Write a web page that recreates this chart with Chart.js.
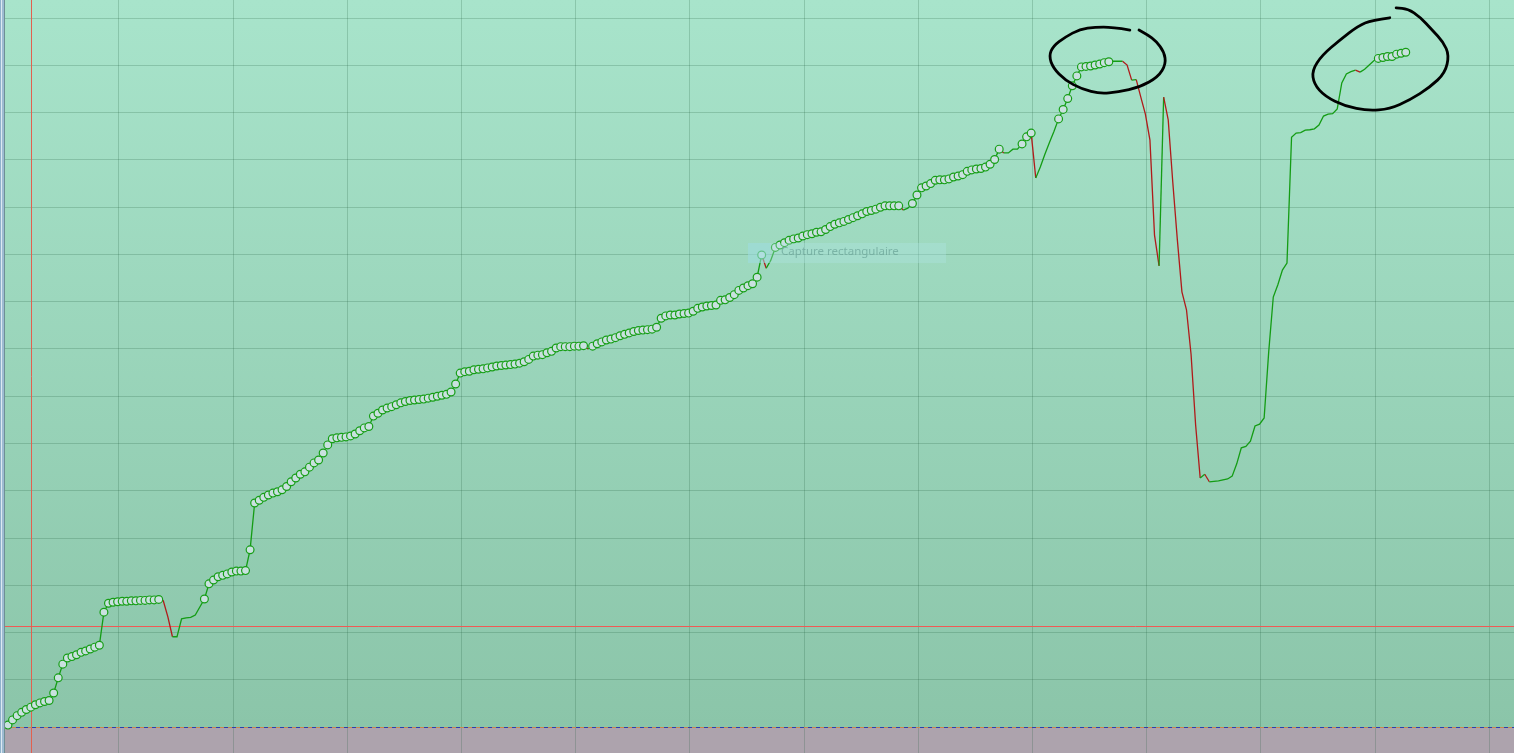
<!DOCTYPE html>
<html>
<head>
<meta charset="utf-8">
<script src="https://cdn.jsdelivr.net/npm/chart.js@4.4.1/dist/chart.umd.min.js"></script>
<style>
  html, body { margin: 0; padding: 0; overflow: hidden; background: #a8e4cb; }
  #wrap { position: relative; width: 1514px; height: 753px; }
  #snip { position: absolute; left: 748px; top: 243px; width: 198px; height: 20px;
          background: rgba(175, 228, 230, 0.35); }
  #snip .icon { position: absolute; left: 0; top: 0; width: 22px; height: 20px; background: rgba(150, 215, 220, 0.35); }
  #snip .txt { position: absolute; left: 33px; top: 0; line-height: 20px;
               font: 11.5px "Noto Sans", sans-serif; color: rgba(90, 145, 135, 0.55); white-space: nowrap; }
</style>
</head>
<body>
<div id="wrap">
  <canvas id="chartCanvas"></canvas>
  <div id="snip"><div class="icon"></div><div class="txt">Capture rectangulaire</div></div>
</div>
<script>
// price series, one value per bar (bar spacing is uniform)
const prices = [
  0.4, 1.5, 2.4, 3.1, 3.7, 4.2, 4.7, 5.1, 5.4, 5.6,
  7.2, 10.4, 13.3, 14.6, 14.9, 15.3, 15.8, 16.1, 16.5, 16.9,
  17.3, 24.3, 26.2, 26.4, 26.5, 26.6, 26.6, 26.7, 26.7, 26.8,
  26.8, 26.9, 26.9, 27.0, 26.7, 23.3, 19.1, 19.1, 22.9, 23.1,
  23.2, 23.7, 25.4, 27.1, 30.3, 31.1, 31.8, 32.1, 32.4, 32.8,
  33.0, 33.0, 33.1, 37.5, 47.4, 48.0, 48.6, 49.1, 49.5, 49.8,
  50.2, 50.9, 51.9, 52.7, 53.5, 54.0, 55.0, 55.9, 56.5, 58.0,
  59.7, 61.0, 61.2, 61.3, 61.4, 61.6, 62.0, 62.7, 63.3, 63.6,
  65.8, 66.4, 67.1, 67.5, 67.8, 68.2, 68.6, 68.9, 69.1, 69.2,
  69.3, 69.4, 69.6, 69.8, 70.0, 70.2, 70.4, 70.9, 72.6, 74.9,
  75.2, 75.3, 75.6, 75.7, 75.8, 76.0, 76.2, 76.4, 76.5, 76.6,
  76.7, 76.8, 77.0, 77.3, 77.8, 78.5, 78.7, 78.8, 79.2, 79.5,
  80.2, 80.5, 80.5, 80.5, 80.6, 80.6, 80.7, 80.0, 80.6, 81.1,
  81.5, 81.9, 82.1, 82.4, 82.8, 83.1, 83.4, 83.7, 83.9, 84.0,
  84.1, 84.2, 84.6, 86.5, 87.0, 87.2, 87.2, 87.4, 87.5, 87.6,
  88.0, 88.6, 88.9, 89.1, 89.2, 89.3, 90.3, 90.4, 90.9, 91.5,
  92.4, 92.9, 93.4, 93.8, 95.2, 99.9, 97.1, 98.8, 101.5, 102.0,
  102.5, 103.0, 103.3, 103.5, 103.9, 104.2, 104.4, 104.7, 104.8, 105.3,
  105.9, 106.4, 106.7, 107.0, 107.4, 107.8, 108.2, 108.6, 109.1, 109.3,
  109.6, 110.0, 110.3, 110.3, 110.3, 110.3, 109.4, 109.8, 110.8, 112.6,
  114.1, 114.5, 115.0, 115.7, 115.8, 115.8, 116.0, 116.4, 116.6, 116.9,
  117.6, 117.9, 118.1, 118.2, 118.5, 119.1, 120.1, 122.3, 121.5, 121.5,
  122.3, 122.3, 123.4, 124.9, 125.7, 116.2, 118.5, 121.2, 123.7, 126.1,
  128.7, 130.7, 133.0, 135.7, 137.8, 139.7, 139.8, 139.9, 140.1, 140.3,
  140.6, 140.8, 140.9, 140.9, 140.9, 140.1, 136.9, 137.0, 133.3, 129.7,
  124.2, 104.1, 97.6, 133.3, 128.5, 115.3, 103.1, 92.1, 88.3, 78.9,
  63.9, 52.7, 53.5, 51.9, 52.0, 52.1, 52.3, 52.5, 53.1, 55.7,
  59.1, 59.4, 60.5, 63.7, 64.1, 65.4, 79.4, 91.0, 93.6, 96.7,
  98.2, 124.8, 125.7, 125.8, 126.3, 126.4, 126.6, 127.4, 129.3, 129.7,
  129.8, 130.8, 136.3, 138.2, 138.7, 139.0, 138.6, 139.2, 140.1, 141.0,
  141.5, 141.7, 141.9, 141.9, 142.4, 142.6, 142.8
];

// bar index ranges [from, to] where a circle marker is shown
const markerRuns = [[0, 33], [43, 126], [128, 165], [168, 195], [198, 217], [222, 224], [230, 241], [300, 306]];

// y axis
const yMin = -5.5;
const yMax = 153.86;
const yStep = 10;
// x axis: vertical separator every 25 bars
const xMin = -1.75;
const xMax = 329.7;
const sessionStart = 24.3;
const sessionBars = 25;

// levels
const alertLevel = 21.4;
const cursorBar = 5;

// hand-drawn loops (bar index, price)
const loopA = [
  [245.6, 147.5], [241.7, 148.1], [238.0, 148.1], [234.7, 147.7], [231.4, 146.0], [228.8, 144.1],
  [227.9, 142.0], [228.8, 139.5], [231.4, 136.9], [235.1, 135.0], [239.1, 134.0], [243.0, 134.4],
  [247.8, 135.4], [251.8, 137.6], [253.5, 140.3], [253.1, 142.9], [251.3, 145.2], [249.5, 146.5],
  [247.6, 147.5]
];
const loopB = [
  [302.5, 150.1], [298.6, 149.6], [295.6, 148.4], [291.6, 145.4], [287.7, 142.2], [285.5, 139.0],
  [285.9, 136.1], [288.3, 133.5], [292.7, 131.4], [297.7, 130.4], [302.5, 130.8], [306.9, 132.7],
  [311.3, 135.4], [314.6, 138.4], [315.5, 142.2], [314.2, 145.0], [311.8, 147.5], [309.1, 150.3],
  [306.5, 152.0], [303.9, 152.2]
];

const UP = "#149c14";
const DOWN = "#b01a1a";

const hasMarker = (i) => markerRuns.some(([a, b]) => i >= a && i <= b);
const points = prices.map((p, i) => ({ x: i, y: p }));
const radii = prices.map((p, i) => hasMarker(i) ? 3.9 : 0);

const decor = {
  id: "decor",
  beforeDraw(chart) {
    const { ctx, chartArea: a, scales: { y } } = chart;
    const zeroY = y.getPixelForValue(0);
    const g = ctx.createLinearGradient(0, a.top, 0, zeroY);
    g.addColorStop(0, "#a8e4cb");
    g.addColorStop(1, "#8bc5a9");
    ctx.save();
    ctx.fillStyle = g;
    ctx.fillRect(a.left, a.top, a.right - a.left, zeroY - a.top);
    ctx.fillStyle = "#ada3ad";
    ctx.fillRect(a.left, zeroY, a.right - a.left, a.bottom - zeroY);
    ctx.restore();
  },
  beforeDatasetsDraw(chart) {
    const { ctx, chartArea: a, scales: { x, y } } = chart;
    ctx.save();
    ctx.lineWidth = 1;
    // alert level
    const ly = Math.round(y.getPixelForValue(alertLevel)) + 0.5;
    ctx.strokeStyle = "#f05a55";
    ctx.beginPath(); ctx.moveTo(a.left, ly); ctx.lineTo(a.right, ly); ctx.stroke();
    // cursor
    const cx = Math.round(x.getPixelForValue(cursorBar)) + 0.5;
    ctx.strokeStyle = "#e2604f";
    ctx.beginPath(); ctx.moveTo(cx, a.top); ctx.lineTo(cx, a.bottom); ctx.stroke();
    // zero line, dashed
    const zy = Math.round(y.getPixelForValue(0)) + 0.5;
    ctx.strokeStyle = "#c98a4a";
    ctx.beginPath(); ctx.moveTo(a.left, zy); ctx.lineTo(a.right, zy); ctx.stroke();
    ctx.setLineDash([4, 4]);
    ctx.strokeStyle = "#2a3fb0";
    ctx.beginPath(); ctx.moveTo(a.left, zy); ctx.lineTo(a.right, zy); ctx.stroke();
    ctx.restore();
  },
  afterDraw(chart) {
    const { ctx, chartArea: a, scales: { x, y } } = chart;
    ctx.save();
    // freehand loops
    ctx.strokeStyle = "#000";
    ctx.lineWidth = 2.8;
    ctx.lineCap = "round";
    ctx.lineJoin = "round";
    [loopA, loopB].forEach((loop) => {
      const pts = loop.map(([i, v]) => [x.getPixelForValue(i), y.getPixelForValue(v)]);
      ctx.beginPath();
      ctx.moveTo(pts[0][0], pts[0][1]);
      for (let k = 1; k < pts.length - 1; k++) {
        const mx = (pts[k][0] + pts[k + 1][0]) / 2;
        const my = (pts[k][1] + pts[k + 1][1]) / 2;
        ctx.quadraticCurveTo(pts[k][0], pts[k][1], mx, my);
      }
      const last = pts[pts.length - 1];
      ctx.lineTo(last[0], last[1]);
      ctx.stroke();
    });
    // window edge on the left
    ctx.fillStyle = "#8fb2cc"; ctx.fillRect(a.left, a.top, 1, a.bottom - a.top);
    ctx.fillStyle = "#dde9f1"; ctx.fillRect(a.left + 1, a.top, 1, a.bottom - a.top);
    ctx.fillStyle = "#9dbbd2"; ctx.fillRect(a.left + 2, a.top, 2, a.bottom - a.top);
    ctx.fillStyle = "#6f8f95"; ctx.fillRect(a.left + 4, a.top, 1, a.bottom - a.top);
    ctx.restore();
  }
};

const gridColor = "rgba(30, 90, 60, 0.22)";

new Chart(document.getElementById("chartCanvas").getContext("2d"), {
  type: "line",
  data: {
    datasets: [{
      data: points,
      borderColor: UP,
      borderWidth: 1.3,
      tension: 0,
      fill: false,
      pointRadius: radii,
      pointHoverRadius: radii,
      pointBorderWidth: 1.2,
      pointBackgroundColor: "#c9e1df",
      pointBorderColor: "#169e16",
      segment: {
        borderColor: (c) => c.p1.parsed.y < c.p0.parsed.y ? DOWN : UP
      }
    }]
  },
  options: {
    responsive: true,
    maintainAspectRatio: false,
    animation: false,
    layout: { padding: 0, autoPadding: false },
    plugins: { legend: { display: false }, tooltip: { enabled: false } },
    events: [],
    scales: {
      x: {
        type: "linear",
        min: xMin,
        max: xMax,
        border: { display: false },
        grid: { color: gridColor, lineWidth: 1, drawTicks: false },
        ticks: { display: false },
        afterBuildTicks: (scale) => {
          const t = [];
          for (let v = sessionStart - sessionBars; v <= xMax; v += sessionBars) {
            if (v > xMin) t.push({ value: v });
          }
          scale.ticks = t;
        }
      },
      y: {
        min: yMin,
        max: yMax,
        border: { display: false },
        grid: { color: gridColor, lineWidth: 1, drawTicks: false },
        ticks: { display: false },
        afterBuildTicks: (scale) => {
          const t = [];
          for (let v = yStep; v < yMax; v += yStep) t.push({ value: v });
          scale.ticks = t;
        }
      }
    }
  },
  plugins: [decor]
});
</script>
</body>
</html>
